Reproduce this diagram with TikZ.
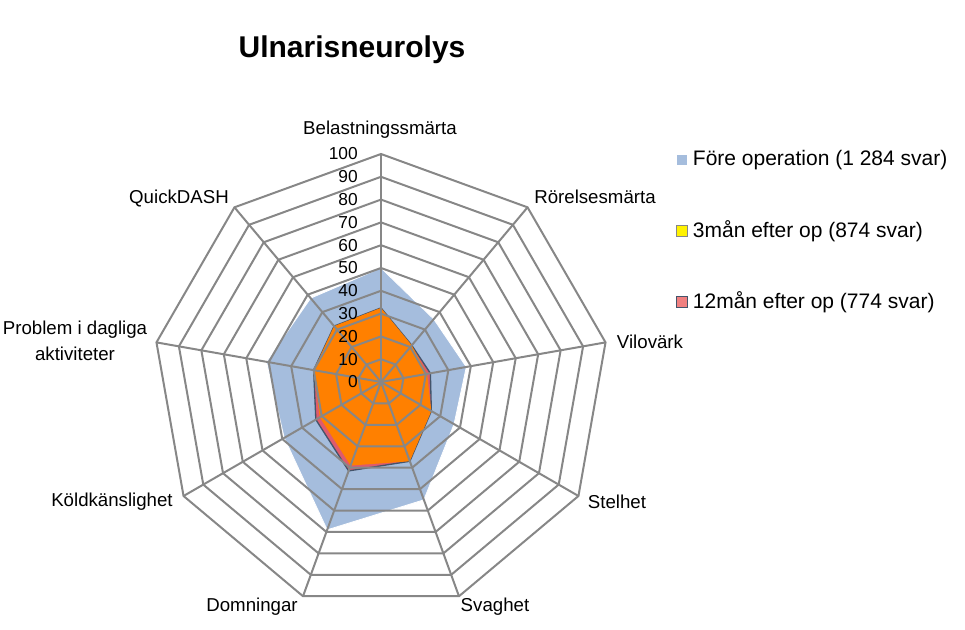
\documentclass[tikz,border=0pt]{standalone}
\usepackage{fontspec}
\setmainfont{Liberation Sans}
\usepackage{tikz}
\usetikzlibrary{positioning}
\definecolor{mblue}{HTML}{A5BDDD}
\definecolor{mred}{HTML}{DE5B6C}
\definecolor{mpink}{HTML}{F08080}
\definecolor{morange}{HTML}{FF8000}
\definecolor{mline}{HTML}{44546A}
\definecolor{mgray}{HTML}{878787}
\tikzstyle{grid} = [draw = mgray, line width = 1.5pt, line join = miter]
\tikzstyle{before} = [fill = mblue, draw = white, line width = 0.6pt]
\tikzstyle{late} = [fill = mred, draw = mline, line width = 1pt]
\tikzstyle{early} = [fill = morange]
\tikzstyle{axislabel} = [font = \fontsize{14}{17}\selectfont, align = center, inner sep = 0pt]
\tikzstyle{ticklabel} = [font = \fontsize{13}{15}\selectfont, anchor = east, inner sep = 0pt]
\tikzstyle{legendtext} = [font = \fontsize{15.75}{18}\selectfont, anchor = west, inner sep = 0pt]
\tikzstyle{legendbox} = [minimum size = 8pt, inner sep = 0pt, line width = 0.6pt]

\begin{document}
\begin{tikzpicture}[x = 0.75pt, y = 0.75pt]
  \useasboundingbox (-381,-248) rectangle (584,382);
  \coordinate (center) at (0,0);
  % data points
  \foreach \v [count = \i] in {50,36,38,37,55,69,49,51,48}
    \coordinate (b\i) at ({90-40*(\i-1)}:{\v*2.28});
  \foreach \v [count = \i] in {32.5,21,22,25.5,37,41.5,33,30,32}
    \coordinate (r\i) at ({90-40*(\i-1)}:{\v*2.28});
  \foreach \v [count = \i] in {32.5,21,20.5,25.5,37,39,31,30,32}
    \coordinate (o\i) at ({90-40*(\i-1)}:{\v*2.28});
  \foreach \i in {1,...,9}
    \coordinate (axis\i) at ({90-40*(\i-1)}:228);
  \draw [before] (b1) -- (b2) -- (b3) -- (b4) -- (b5) -- (b6) -- (b7) -- (b8) -- (b9) -- cycle;
  \draw [late] (r1) -- (r2) -- (r3) -- (r4) -- (r5) -- (r6) -- (r7) -- (r8) -- (r9) -- cycle;
  \fill [early] (o1) -- (o2) -- (o3) -- (o4) -- (o5) -- (o6) -- (o7) -- (o8) -- (o9) -- cycle;
  % grid
  \foreach \k in {1,...,10}
    \draw [grid] (90:\k*22.8) \foreach \j in {1,...,8} { -- ({90-40*\j}:\k*22.8) } -- cycle;
  \foreach \i in {1,...,9}
    \draw [grid] (center) -- (axis\i);
  \foreach \t in {0,10,...,100}
    \node (tick\t) [ticklabel] at (-23,{\t*2.28}) {\t};
  % labels
  \node (title) at (-29,332) {\fontsize{22.5}{26}\selectfont\bfseries Ulnarisneurolys};
  \node (belast) [axislabel] at (-1,252) {Belastningssmärta};
  \node (rorelse) [axislabel] at (214,185) {Rörelsesmärta};
  \node (vilo) [axislabel] at (269,40) {Vilovärk};
  \node (stel) [axislabel] at (236,-120) {Stelhet};
  \node (svag) [axislabel] at (114,-225) {Svaghet};
  \node (domn) [axislabel] at (-129,-225) {Domningar};
  \node (kold) [axislabel] at (-269,-120) {Köldkänslighet};
  \node (problem) [axislabel] at (-306,41) {Problem i dagliga\\[2pt]aktiviteter};
  \node (quick) [axislabel] at (-202,183) {QuickDASH};
  % legend
  \node (box1) [legendbox, fill = mblue] at (301,222) {};
  \node (leg1) [legendtext, right = 8pt of box1.center] {Före operation (1 284 svar)};
  \node (box2) [legendbox, fill = yellow, draw = mgray] at (301,151) {};
  \node (leg2) [legendtext, right = 8pt of box2.center] {3mån efter op (874 svar)};
  \node (box3) [legendbox, fill = mpink, draw = mline] at (301,80) {};
  \node (leg3) [legendtext, right = 8pt of box3.center] {12mån efter op (774 svar)};
\end{tikzpicture}
\end{document}
